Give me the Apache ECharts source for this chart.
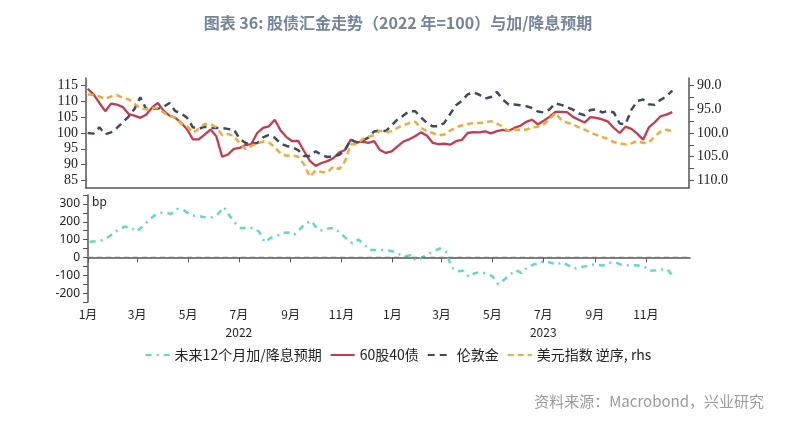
<!DOCTYPE html>
<html>
<head>
<meta charset="utf-8">
<title>股债汇金走势</title>
<script src="https://cdn.jsdelivr.net/npm/echarts@6/dist/echarts.min.js"></script>
<style>
  * { margin: 0; padding: 0; box-sizing: border-box; }
  body { background: #fff; }
  #chart { width: 796px; height: 425px; }
</style>
</head>
<body>
<div id="chart"></div>
<script>
// 周度数据，起点 2022-01-03
const startDate = [2022, 0, 3]
const weekCount = 101

// 60股40债（2022=100）
const stockBond = [
  114, 112.2, 109.5, 106.9, 109.3, 109, 108.2, 106, 105.5, 104.8,
  105.8, 108, 109.5, 107, 105.5, 104.8, 103.2, 101.2, 98, 98,
  99.5, 101.1, 99, 92.5, 93.2, 95, 95.3, 96.2, 96.5, 100,
  101.6, 102.1, 104.2, 100.8, 98.7, 97.4, 97.5, 94.3, 91.2, 89.6,
  90.5, 91.1, 92, 93.8, 94.6, 97.9, 97, 97.3, 96.9, 97.4,
  94.6, 93.7, 94.2, 95.8, 97.3, 98, 99, 100.2, 99.2, 96.9,
  96.5, 96.6, 96.3, 97.4, 97.8, 100, 100.3, 100.2, 100.5, 99.9,
  100.6, 101, 100.7, 101.6, 102.3, 103.5, 104.2, 102.7, 103.9, 105.1,
  106.7, 106.7, 106.6, 105.1, 104.2, 103.3, 105, 104.8, 104.3, 103.6,
  101.6, 100, 102, 101.3, 99.8, 97.9, 101.8, 103.4, 105.3, 105.8,
  106.6
]

// 伦敦金（2022=100）
const gold = [
  100, 99.8, 101.8, 99.6, 100.2, 101.6, 103.4, 105.2, 107.6, 111.3,
  107.6, 107.8, 107.7, 108.3, 109.5, 106.9, 106.2, 104.8, 101.8, 101.3,
  102, 101.6, 101.6, 101.6, 101.3, 101.1, 98.2, 96.8, 96.6, 96.8,
  98.6, 99.4, 98.5, 96.7, 95.9, 95.5, 94.6, 92.7, 92.7, 94.2,
  93.1, 92.4, 92.7, 93, 94.6, 97.9, 97, 97.6, 98.5, 100.5,
  100.8, 100.6, 102.4, 104.3, 105.5, 106.9, 106.9, 105, 103.2, 102.1,
  102.1, 103.2, 106, 108.8, 110.2, 112.2, 112.9, 112.1, 110.9, 111.4,
  113, 110.6, 109, 109, 108.8, 108.5, 107.9, 106.8, 106.5, 107.5,
  109.4, 108.9, 108.2, 107.4, 106.2, 105.6, 107.3, 107.5, 106.5, 107,
  106.5, 103, 102.8, 107.3, 110.1, 110.6, 109.1, 108.9, 110.5, 111.6,
  113.4
]

// 美元指数（逆序，右轴）
const dollar = [
  91.9, 92, 92.3, 92.8, 92.3, 92, 92.6, 92.9, 93.8, 94.8,
  95, 94.7, 94.8, 95.7, 96.4, 96.8, 98, 98.6, 99.9, 99.1,
  98.1, 98.1, 98.8, 100.4, 100.2, 100.6, 102.2, 103.4, 102.7, 102.2,
  101.8, 102, 103, 104.3, 104.8, 104.7, 105, 106.6, 109.2, 107.9,
  108.2, 108.3, 107.1, 107.6, 106, 102.4, 102.3, 101.3, 100.8, 100.5,
  99.5, 99.9, 99.6, 98.9, 98.4, 97.9, 97.6, 98.9, 99.6, 100,
  100.5, 100.3, 99.5, 98.8, 98.4, 98.1, 97.9, 97.9, 97.8, 97.5,
  98, 98.7, 99.6, 99.3, 99.3, 99.3, 98.8, 98.7, 98.2, 97.1,
  95.8, 97.2, 97.8, 98.2, 98.8, 99.3, 99.9, 100.4, 100.8, 101.3,
  101.9, 102.2, 102.4, 102.2, 101.7, 102.1, 102, 100.7, 99.7, 99.3,
  99.6
]

// 未来12个月加/降息预期（bp）
const rateExp = [
  88, 90, 96, 110, 132, 158, 172, 170, 145, 170,
  205, 233, 250, 250, 245, 272, 268, 245, 233, 230,
  224, 225, 245, 282, 232, 190, 163, 167, 165, 145,
  85, 110, 120, 137, 140, 126, 158, 190, 205, 158,
  150, 163, 163, 135, 105, 79, 100, 75, 41, 41,
  42, 40, 33, 18, 5, 13, -20, 0, 20, 35,
  50, 35, -55, -78, -75, -109, -88, -82, -92, -105,
  -150, -125, -97, -71, -88, -55, -40, -33, -20, -30,
  -40, -27, -45, -63, -55, -50, -40, -44, -45, -30,
  -26, -40, -44, -43, -45, -50, -75, -72, -68, -66,
  -112
]

const legendNames = ['未来12个月加/降息预期', '60股40债', '伦敦金', '美元指数 逆序, rhs']
const leftTicks = [85, 90, 95, 100, 105, 110, 115]
const rightTicks = [90, 92.5, 95, 97.5, 100, 102.5, 105, 107.5, 110]
const rightLabels = [90, 95, 100, 105, 110]
const bpLabels = [-200, -100, 0, 100, 200, 300]
const monthTicks = [
  [2022, 0], [2022, 2], [2022, 4], [2022, 6], [2022, 8], [2022, 10],
  [2023, 0], [2023, 2], [2023, 4], [2023, 6], [2023, 8], [2023, 10]
]

const weeks = []
for (let i = 0; i < weekCount; i++) {
  weeks.push(+new Date(startDate[0], startDate[1], startDate[2] + i * 7))
}
const toPairs = arr => weeks.map((d, i) => [d, arr[i]])
const monthValues = monthTicks.map(m => +new Date(m[0], m[1], 1))
const xMin = +new Date(2022, 0, 1)
const xMax = +new Date(2023, 11, 24)

const axisColor = '#555'
const cjk = '"Noto Sans CJK SC", "Noto Sans", sans-serif'

const chart = echarts.init(document.getElementById('chart'))
chart.setOption({
  animation: false,
  backgroundColor: '#fff',
  title: {
    text: '图表 36: 股债汇金走势（2022 年=100）与加/降息预期',
    left: 'center',
    top: 10,
    textStyle: { fontFamily: cjk, fontSize: 16, fontWeight: 'bold', color: '#75849a' }
  },
  graphic: [
    {
      type: 'text',
      left: 92,
      top: 197,
      style: { text: 'bp', fontFamily: '"Noto Sans", sans-serif', fontSize: 12, fill: '#222' }
    },
    {
      type: 'text',
      right: 32,
      top: 394,
      style: { text: '资料来源：Macrobond，兴业研究', fontFamily: cjk, fontSize: 15, fill: '#9a9a9a' }
    }
  ],
  legend: {
    data: legendNames,
    top: 343,
    left: 'center',
    itemWidth: 24,
    itemHeight: 8,
    itemGap: 8,
    itemStyle: { opacity: 0 },
    textStyle: { fontFamily: cjk, fontSize: 14, color: '#222' }
  },
  grid: [
    { left: 86, right: 107, top: 78, height: 110 },
    { left: 88, right: 106, top: 195, height: 107 }
  ],
  xAxis: [
    {
      type: 'value',
      gridIndex: 0,
      min: xMin,
      max: xMax,
      axisLine: { lineStyle: { color: axisColor, width: 1.5 } },
      axisTick: { show: false },
      axisLabel: { show: false },
      splitLine: { show: false }
    },
    {
      type: 'value',
      gridIndex: 1,
      min: xMin,
      max: xMax,
      axisLine: { lineStyle: { color: axisColor, width: 1.5 } },
      axisTick: { show: true, customValues: monthValues, length: 5, lineStyle: { color: axisColor } },
      axisLabel: {
        customValues: monthValues,
        margin: 4,
        formatter: v => {
          const d = new Date(v)
          const m = d.getMonth() + 1
          if (m === 7) return '{m|' + m + '月}\n{y|' + d.getFullYear() + '}'
          return '{m|' + m + '月}'
        },
        rich: {
          m: { fontFamily: cjk, fontSize: 12, color: '#222', lineHeight: 16 },
          y: { fontFamily: cjk, fontSize: 12, color: '#222', lineHeight: 20 }
        }
      },
      splitLine: { show: false }
    }
  ],
  yAxis: [
    {
      type: 'value',
      gridIndex: 0,
      min: 82.6,
      max: 117.4,
      axisLine: { show: true, lineStyle: { color: axisColor, width: 1.5 } },
      axisTick: { show: true, customValues: leftTicks, length: 5, lineStyle: { color: axisColor } },
      axisLabel: {
        customValues: leftTicks,
        fontFamily: '"Liberation Serif", serif',
        fontSize: 14,
        color: '#222',
        margin: 8
      },
      splitLine: { show: false }
    },
    {
      type: 'value',
      gridIndex: 0,
      position: 'right',
      inverse: true,
      min: 88.4,
      max: 111.6,
      axisLine: { show: true, lineStyle: { color: axisColor, width: 1.5 } },
      axisTick: { show: true, customValues: rightTicks, length: 5, lineStyle: { color: axisColor } },
      axisLabel: {
        customValues: rightLabels,
        formatter: v => v.toFixed(1),
        fontFamily: '"Liberation Serif", serif',
        fontSize: 14,
        color: '#222',
        margin: 8
      },
      splitLine: { show: false }
    },
    {
      type: 'value',
      gridIndex: 1,
      min: -250,
      max: 350,
      interval: 50,
      axisLine: { show: true, lineStyle: { color: axisColor, width: 1.5 } },
      axisTick: { show: true, length: 5, lineStyle: { color: axisColor } },
      axisLabel: {
        customValues: bpLabels,
        fontFamily: '"Noto Sans", sans-serif',
        fontSize: 12,
        color: '#222',
        margin: 8
      },
      splitLine: { show: false }
    }
  ],
  series: [
    {
      name: legendNames[0],
      type: 'line',
      xAxisIndex: 1,
      yAxisIndex: 2,
      symbol: 'none',
      data: toPairs(rateExp),
      lineStyle: { color: '#5fd9cf', width: 2.5, type: [6, 5, 2, 5] },
      itemStyle: { color: '#5fd9cf' },
      markLine: {
        silent: true,
        symbol: 'none',
        label: { show: false },
        lineStyle: { color: '#777', width: 1.3, type: [5, 4] },
        data: [{ yAxis: 0 }]
      }
    },
    {
      name: legendNames[1],
      type: 'line',
      xAxisIndex: 0,
      yAxisIndex: 0,
      symbol: 'none',
      data: toPairs(stockBond),
      lineStyle: { color: '#c63b4c', width: 2.3 },
      itemStyle: { color: '#c63b4c' }
    },
    {
      name: legendNames[2],
      type: 'line',
      xAxisIndex: 0,
      yAxisIndex: 0,
      symbol: 'none',
      data: toPairs(gold),
      lineStyle: { color: '#3c4a68', width: 2.5, type: [7, 5] },
      itemStyle: { color: '#3c4a68' }
    },
    {
      name: legendNames[3],
      type: 'line',
      xAxisIndex: 0,
      yAxisIndex: 1,
      symbol: 'none',
      data: toPairs(dollar),
      lineStyle: { color: '#f2aa3a', width: 2.5, type: [6, 4] },
      itemStyle: { color: '#f2aa3a' }
    }
  ]
})
</script>
</body>
</html>
